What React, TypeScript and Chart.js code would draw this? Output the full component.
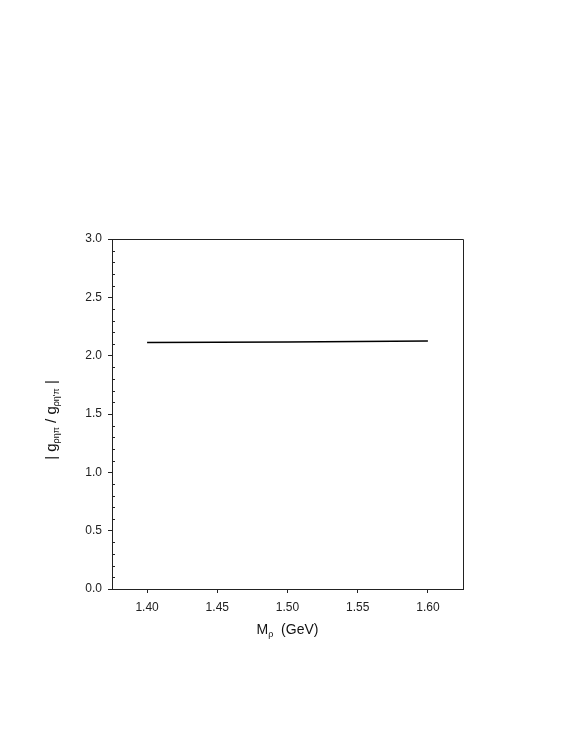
import React, { useEffect, useRef } from "react";
import { Chart, registerables } from "chart.js";

Chart.register(...registerables);

const massValues = [1.4, 1.45, 1.5, 1.55, 1.6];
const ratioValues = [2.112, 2.115, 2.118, 2.121, 2.125];
const xTickValues = [1.4, 1.45, 1.5, 1.55, 1.6];
const yTickValues = [0, 0.5, 1.0, 1.5, 2.0, 2.5, 3.0];
const yMinorValues = [0.1, 0.2, 0.3, 0.4, 0.6, 0.7, 0.8, 0.9, 1.1, 1.2, 1.3, 1.4, 1.6, 1.7, 1.8, 1.9, 2.1, 2.2, 2.3, 2.4, 2.6, 2.7, 2.8, 2.9];

const FONT = '"Liberation Sans", Arial, Helvetica, sans-serif';
const AXIS_COLOR = "#222";

const decorPlugin = {
  id: "decor",
  afterDraw(chart: any) {
    const { ctx, chartArea, scales } = chart;
    const { left, right, top, bottom } = chartArea;
    ctx.save();
    ctx.strokeStyle = AXIS_COLOR;
    ctx.lineWidth = 1;
    ctx.beginPath();
    ctx.moveTo(left, top + 0.5);
    ctx.lineTo(right + 0.5, top + 0.5);
    ctx.lineTo(right + 0.5, bottom);
    ctx.stroke();
    ctx.beginPath();
    for (const v of yMinorValues) {
      const py = Math.round(scales.y.getPixelForValue(v)) + 0.5;
      ctx.moveTo(left, py);
      ctx.lineTo(left + 3, py);
    }
    ctx.stroke();

    ctx.fillStyle = "#111";
    ctx.textBaseline = "middle";
    ctx.textAlign = "left";
    const xBig = `14px ${FONT}`;
    const big = `15px ${FONT}`;
    const small = `9px ${FONT}`;
    const xParts: [string, string, number][] = [
      ["M", xBig, 0],
      ["ρ", small, 5],
      ["  (GeV)", xBig, 0],
    ];
    let total = 0;
    for (const [t, f] of xParts) {
      ctx.font = f;
      total += ctx.measureText(t).width;
    }
    const cx = (left + right) / 2;
    let x = cx - total / 2;
    const yT = 630;
    for (const [t, f, dy] of xParts) {
      ctx.font = f;
      ctx.fillText(t, x, yT + dy);
      x += ctx.measureText(t).width;
    }

    ctx.translate(52, 420);
    ctx.rotate(-Math.PI / 2);
    const yParts: [string, string, number][] = [
      ["| g", big, 0],
      ["ρηπ", small, 5],
      [" / g", big, 0],
      ["ρη'π", small, 5],
      [" |", big, 0],
    ];
    total = 0;
    for (const [t, f] of yParts) {
      ctx.font = f;
      total += ctx.measureText(t).width;
    }
    x = -total / 2;
    for (const [t, f, dy] of yParts) {
      ctx.font = f;
      ctx.fillText(t, x, dy);
      x += ctx.measureText(t).width;
    }
    ctx.restore();
  },
};

export default function App() {
  const ref = useRef<HTMLCanvasElement | null>(null);
  useEffect(() => {
    if (!ref.current) return;
    const chart = new Chart(ref.current, {
      type: "line",
      data: {
        datasets: [
          {
            data: massValues.map((m, i) => ({ x: m, y: ratioValues[i] })),
            borderColor: "#000",
            borderWidth: 1.5,
            pointRadius: 0,
            tension: 0,
            fill: false,
          },
        ],
      },
      options: {
        responsive: false,
        animation: false,
        events: [],
        layout: { padding: { top: 239, right: 112, bottom: 0, left: 0 } },
        plugins: { legend: { display: false }, tooltip: { enabled: false }, title: { display: false } },
        scales: {
          x: {
            type: "linear",
            min: 1.375,
            max: 1.625,
            afterBuildTicks: (s: any) => {
              s.ticks = xTickValues.map((v) => ({ value: v }));
            },
            afterFit: (s: any) => {
              s.height = 158;
            },
            grid: { drawOnChartArea: false, drawTicks: true, tickLength: 4, color: AXIS_COLOR },
            border: { display: true, color: AXIS_COLOR, width: 1 },
            ticks: {
              padding: 7,
              color: "#222",
              font: { family: FONT, size: 12 },
              maxRotation: 0,
              callback: (v: any) => Number(v).toFixed(2),
            },
          },
          y: {
            type: "linear",
            min: 0,
            max: 3,
            afterBuildTicks: (s: any) => {
              s.ticks = yTickValues.map((v) => ({ value: v }));
            },
            afterFit: (s: any) => {
              s.width = 112;
            },
            grid: { drawOnChartArea: false, drawTicks: true, tickLength: 4, color: AXIS_COLOR },
            border: { display: true, color: AXIS_COLOR, width: 1 },
            ticks: {
              padding: 6,
              color: "#222",
              font: { family: FONT, size: 12 },
              callback: (v: any) => Number(v).toFixed(1),
            },
          },
        },
      },
      plugins: [decorPlugin],
    } as any);
    return () => chart.destroy();
  }, []);
  return (
    <div style={{ position: "absolute", left: 0, top: 0, width: 575, height: 747, background: "#fff" }}>
      <canvas ref={ref} width={575} height={747} style={{ display: "block" }} />
    </div>
  );
}
